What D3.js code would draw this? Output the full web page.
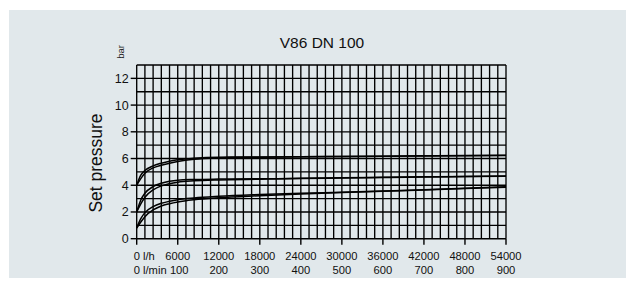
<!DOCTYPE html>
<html>
<head>
<meta charset="utf-8">
<script src="https://cdn.jsdelivr.net/npm/d3@7"></script>
<style>
    body { margin: 0; background: #fff; }
    svg { display: block; font-family: "Liberation Sans", Arial, sans-serif; }
</style>
</head>
<body>
<div id="chart"></div>
<script>
// flow in l/h
var flow = [0, 600, 1200, 2400, 3600, 4800, 6000, 8400, 12000, 18000, 24000, 30000, 36000, 42000, 48000, 54000];

// each curve is drawn as a pair of thin lines (upper / lower edge)
var topUpper = [4.0, 4.75, 5.1, 5.45, 5.65, 5.8, 5.9, 6.02, 6.1, 6.12, 6.14, 6.16, 6.18, 6.2, 6.22, 6.25];
var topLower = [4.0, 4.5, 4.9, 5.3, 5.5, 5.65, 5.78, 5.95, 6.05, 6.1, 6.13, 6.15, 6.17, 6.19, 6.21, 6.23];
var midUpper = [2.0, 2.9, 3.4, 3.9, 4.15, 4.3, 4.38, 4.43, 4.46, 4.48, 4.52, 4.56, 4.6, 4.63, 4.66, 4.7];
var midLower = [2.0, 2.6, 3.1, 3.65, 3.95, 4.12, 4.23, 4.33, 4.4, 4.45, 4.5, 4.54, 4.58, 4.62, 4.65, 4.68];
var lowUpper = [0.8, 1.5, 1.95, 2.4, 2.65, 2.8, 2.92, 3.05, 3.17, 3.3, 3.4, 3.48, 3.57, 3.67, 3.77, 3.88];
var lowLower = [0.8, 1.25, 1.65, 2.15, 2.45, 2.62, 2.75, 2.92, 3.07, 3.22, 3.35, 3.45, 3.55, 3.65, 3.75, 3.85];

var lhTicks = [0, 6000, 12000, 18000, 24000, 30000, 36000, 42000, 48000, 54000];
var lhLabels = ["0 l/h", "6000", "12000", "18000", "24000", "30000", "36000", "42000", "48000", "54000"];
var lminLabels = ["0 l/min", "100", "200", "300", "400", "500", "600", "700", "800", "900"];
var barTicks = [0, 2, 4, 6, 8, 10, 12];

var title = "V86 DN 100";

var width = 635, height = 287;

var svg = d3.select("#chart").append("svg")
    .attr("width", width)
    .attr("height", height);

// grey panel
svg.append("rect")
    .attr("x", 9).attr("y", 10)
    .attr("width", 617).attr("height", 268)
    .attr("fill", "#e1e8eb");

var x = d3.scaleLinear().domain([0, 54000]).range([136.7, 506]);
var y = d3.scaleLinear().domain([0, 13]).range([238.7, 65]);

var plot = svg.append("g").attr("class", "plot");

// grid: every 1200 l/h (20 l/min) and every bar
plot.append("g").attr("class", "grid-x")
    .selectAll("line")
    .data(d3.range(0, 54001, 1200))
    .enter().append("line")
    .attr("x1", d => x(d)).attr("x2", d => x(d))
    .attr("y1", y(0)).attr("y2", y(13))
    .attr("stroke", "#000")
    .attr("stroke-width", 1.35);

plot.append("g").attr("class", "grid-y")
    .selectAll("line")
    .data(d3.range(0, 14, 1))
    .enter().append("line")
    .attr("x1", x(0)).attr("x2", x(54000))
    .attr("y1", d => y(d)).attr("y2", d => y(d))
    .attr("stroke", "#000")
    .attr("stroke-width", 1.35);

// y axis ticks + labels
var yAxis = plot.append("g").attr("class", "y-axis");
yAxis.selectAll("line")
    .data(barTicks)
    .enter().append("line")
    .attr("x1", x(0) - 6).attr("x2", x(0))
    .attr("y1", d => y(d)).attr("y2", d => y(d))
    .attr("stroke", "#000").attr("stroke-width", 1.4);
yAxis.selectAll("text")
    .data(barTicks)
    .enter().append("text")
    .attr("x", x(0) - 8)
    .attr("y", d => y(d) + 4.5)
    .attr("text-anchor", "end")
    .attr("font-size", 12.5)
    .attr("fill", "#111")
    .text(d => d);

// x axis ticks + two rows of labels
var xAxis = plot.append("g").attr("class", "x-axis");
xAxis.selectAll("line")
    .data(lhTicks)
    .enter().append("line")
    .attr("x1", d => x(d)).attr("x2", d => x(d))
    .attr("y1", y(0)).attr("y2", y(0) + 6)
    .attr("stroke", "#000").attr("stroke-width", 1.4);
xAxis.selectAll("text.lh")
    .data(lhTicks)
    .enter().append("text")
    .attr("class", "lh")
    .attr("x", (d, i) => i == 0 ? x(d) - 3 : x(d))
    .attr("y", 260)
    .attr("text-anchor", (d, i) => i == 0 ? "start" : "middle")
    .attr("font-size", 11.2)
    .attr("fill", "#111")
    .text((d, i) => lhLabels[i]);
xAxis.selectAll("text.lmin")
    .data(lhTicks)
    .enter().append("text")
    .attr("class", "lmin")
    .attr("x", (d, i) => i == 0 ? x(d) - 3 : x(d) + 1.5 * (i == 1))
    .attr("y", 273.5)
    .attr("text-anchor", (d, i) => i == 0 ? "start" : "middle")
    .attr("font-size", 11.2)
    .attr("fill", "#111")
    .text((d, i) => lminLabels[i]);

// curves
var curves = [topUpper, topLower, midUpper, midLower, lowUpper, lowLower];
var line = d3.line()
    .x((d, i) => x(flow[i]))
    .y(d => y(d))
    .curve(d3.curveMonotoneX);

plot.append("g").attr("class", "curves")
    .selectAll("path")
    .data(curves)
    .enter().append("path")
    .attr("d", line)
    .attr("fill", "none")
    .attr("stroke", "#000")
    .attr("stroke-width", 1.5);

// titles
svg.append("text")
    .attr("x", 322).attr("y", 48)
    .attr("text-anchor", "middle")
    .attr("font-size", 15.5)
    .attr("fill", "#111")
    .text(title);

svg.append("text")
    .attr("transform", "translate(102,163) rotate(-90)")
    .attr("text-anchor", "middle")
    .attr("font-size", 17.5)
    .attr("fill", "#111")
    .text("Set pressure");

svg.append("text")
    .attr("transform", "translate(124,52) rotate(-90)")
    .attr("text-anchor", "middle")
    .attr("font-size", 9.5)
    .attr("fill", "#222")
    .text("bar");
</script>
</body>
</html>
